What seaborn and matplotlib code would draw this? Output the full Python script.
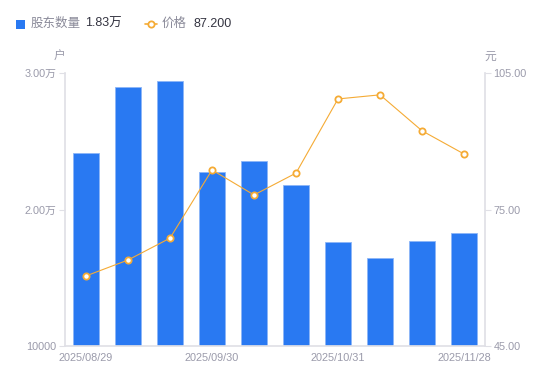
import numpy as np
import pandas as pd
import matplotlib
matplotlib.use("Agg")
import matplotlib.pyplot as plt
import seaborn as sns
from matplotlib.patches import Rectangle
from matplotlib.lines import Line2D
from matplotlib.ticker import FixedLocator, FixedFormatter

dates = ["2025/08/29", "2025/09/10", "2025/09/19", "2025/09/30", "2025/10/10",
         "2025/10/20", "2025/10/31", "2025/11/10", "2025/11/20", "2025/11/28"]
holders = [24140, 28970, 29410, 22750, 23550, 21800, 17620, 16450, 17690, 18300]
price = [60.4, 63.9, 68.7, 83.7, 78.2, 83.0, 99.3, 100.2, 92.3, 87.2]
left_ticks = [10000, 20000, 30000]
left_labels = ["10000", "2.00万", "3.00万"]
right_ticks = [45, 75, 105]
right_labels = ["45.00", "75.00", "105.00"]
shown_dates = ["2025/08/29", "2025/09/30", "2025/10/31", "2025/11/28"]

sns.set_theme(style="white")
plt.rcParams['font.family'] = ['Liberation Sans', 'Noto Sans CJK SC', 'DejaVu Sans']

BLUE = "#2979F2"
ORANGE = "#F5AB35"
GRAY = "#9A9AAA"
AXC = "#E0E0E6"

fig = plt.figure(figsize=(5.5, 3.81), dpi=100)
ax = fig.add_axes([65/550, 35/381, 420/550, 273/381])

df = pd.DataFrame({"date": dates, "holders": holders, "price": price})
sns.barplot(data=df, x="date", y="holders", color=BLUE, saturation=1,
            width=0.6, edgecolor="#8DB6F7", linewidth=0.6, ax=ax)
ax.set_ylim(10000, 30000)
ax.set_xlim(-0.5, len(dates) - 0.5)
ax.yaxis.set_major_locator(FixedLocator(left_ticks))
ax.yaxis.set_major_formatter(FixedFormatter(left_labels))
ax.set_xticks(range(len(dates)))
ax.set_xticklabels([d if d in shown_dates else "" for d in dates])
ax.set_xlabel("")
ax.set_ylabel("")

ax2 = ax.twinx()
sns.lineplot(x=np.arange(len(price)), y=price, ax=ax2, color=ORANGE, linewidth=0.8,
             marker="o", markersize=4.5, markerfacecolor="white",
             markeredgecolor=ORANGE, markeredgewidth=1.3)
ax2.set_ylim(45, 105)
ax2.yaxis.set_major_locator(FixedLocator(right_ticks))
ax2.yaxis.set_major_formatter(FixedFormatter(right_labels))
ax2.set_ylabel("")

for a in (ax, ax2):
    for s in a.spines.values():
        s.set_visible(False)
    a.grid(False)
ax.spines['left'].set_visible(True)
ax.spines['left'].set_color(AXC)
ax.spines['bottom'].set_visible(True)
ax.spines['bottom'].set_color(AXC)
ax2.spines['right'].set_visible(True)
ax2.spines['right'].set_color(AXC)

ax.tick_params(axis='y', colors=AXC, labelcolor=GRAY, labelsize=7.8, length=4, width=0.8, pad=2, left=True)
ax.tick_params(axis='x', colors=AXC, labelcolor=GRAY, labelsize=7.8, length=0, pad=5)
ax2.tick_params(axis='y', colors=AXC, labelcolor=GRAY, labelsize=7.8, length=4, width=0.8, pad=2, right=True)

fig.text(60/550, 1 - 57/381, "户", color=GRAY, fontsize=8.5, ha="center", va="center")
fig.text(490/550, 1 - 57/381, "元", color=GRAY, fontsize=8.5, ha="center", va="center")

# legend
fig.add_artist(Rectangle((16/550, 1 - 29/381), 9/550, 9/381, transform=fig.transFigure,
                         facecolor=BLUE, edgecolor="none"))
fig.text(31/550, 1 - 24/381, "股东数量", color="#8A8A99", fontsize=9, va="center")
fig.text(85/550, 1 - 24/381, "1.83万", color="#333340", fontsize=9, va="center")
fig.add_artist(Line2D([145/550, 157/550], [1 - 24/381, 1 - 24/381], transform=fig.transFigure,
                      color=ORANGE, linewidth=1.2))
fig.add_artist(Line2D([151/550], [1 - 24/381], transform=fig.transFigure, marker="o",
                      markersize=4.5, markerfacecolor="white", markeredgecolor=ORANGE,
                      markeredgewidth=1.3, linestyle="none"))
fig.text(162/550, 1 - 24/381, "价格", color="#8A8A99", fontsize=9, va="center")
fig.text(193/550, 1 - 24/381, "87.200", color="#333340", fontsize=9, va="center")

fig.savefig("out.png", dpi=100)
